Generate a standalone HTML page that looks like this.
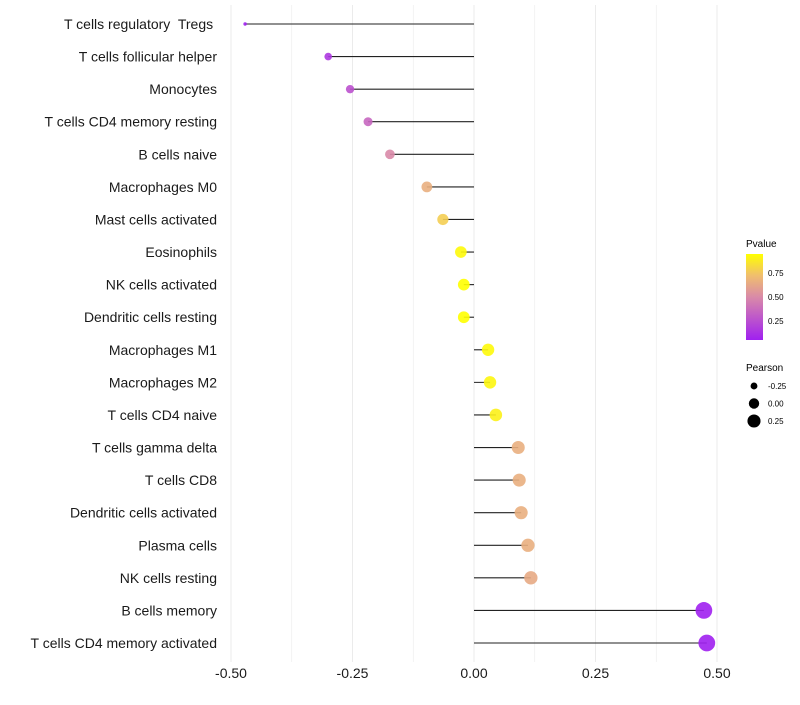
<!DOCTYPE html>
<html><head><meta charset="utf-8"><style>
body{margin:0;background:#fff;font-family:"Liberation Sans",sans-serif}
text{white-space:pre}
</style></head><body>
<svg id="c" width="800" height="700" xmlns="http://www.w3.org/2000/svg" font-family="Liberation Sans, sans-serif"></svg>
<script>
const categories=["T cells regulatory  Tregs ","T cells follicular helper","Monocytes","T cells CD4 memory resting","B cells naive","Macrophages M0","Mast cells activated","Eosinophils","NK cells activated","Dendritic cells resting","Macrophages M1","Macrophages M2","T cells CD4 naive","T cells gamma delta","T cells CD8","Dendritic cells activated","Plasma cells","NK cells resting","B cells memory","T cells CD4 memory activated"];
const pearson=[-0.471,-0.300,-0.255,-0.218,-0.173,-0.097,-0.064,-0.027,-0.021,-0.021,0.029,0.033,0.045,0.091,0.093,0.097,0.111,0.117,0.473,0.479];
const pvalues=[0.03,0.15,0.26,0.35,0.5,0.66,0.78,0.93,0.95,0.95,0.93,0.92,0.9,0.66,0.66,0.66,0.66,0.64,0.04,0.04];
const xTicks=[-0.5,-0.25,0,0.25,0.5];
const xTickLabels=["-0.50","-0.25","0.00","0.25","0.50"];
const legendP=[0.25,0.5,0.75];
const legendS=[-0.25,0,0.25];

const NS="http://www.w3.org/2000/svg",svg=document.getElementById('c');
const X=v=>474+v*486;
const Y=i=>24+i*(643-24)/19;
const R=v=>Math.sqrt(Math.max(3,36+72*v));
function col(p){const s=[[0,[160,32,240]],[0.5,[217,138,168]],[0.75,[240,190,110]],[1,[255,255,0]]];
 p=Math.max(0,Math.min(1,(p-0.05)/0.9));
 for(let k=1;k<s.length;k++){if(p<=s[k][0]){const t=(p-s[k-1][0])/(s[k][0]-s[k-1][0]);const a=s[k-1][1],b=s[k][1];return `rgb(${a.map((c,j)=>Math.round(c+(b[j]-c)*t)).join(',')})`;}}return 'rgb(255,255,0)';}
function el(t,a,p){const e=document.createElementNS(NS,t);for(const k in a)e.setAttribute(k,a[k]);(p||svg).appendChild(e);return e;}
for(let v=-0.5;v<=0.5001;v+=0.125){const g=el('line',{x1:X(v),x2:X(v),y1:5,y2:662,stroke:'#ebebeb','stroke-width':Math.abs((v*4)%1)<1e-6?1:0.6});

}
categories.forEach((c,i)=>{
 const l=el('line',{x1:X(0),x2:X(pearson[i]),y1:Y(i),y2:Y(i),stroke:'#222','stroke-width':1.1});
 
 
 const d=el('circle',{cx:X(pearson[i]),cy:Y(i),r:R(pearson[i]),fill:col(pvalues[i]),'fill-opacity':0.9});
 
 
 const t=el('text',{x:217,y:Y(i)+5,'text-anchor':'end','font-size':14,fill:'#1a1a1a'});t.textContent=c;
 
 
});
xTicks.forEach((v,i)=>{const t=el('text',{x:X(v),y:678,'text-anchor':'middle','font-size':14,fill:'#1a1a1a'});t.textContent=xTickLabels[i];

});
let t=el('text',{x:746,y:247,'font-size':10});t.textContent='Pvalue';


const defs=el('defs',{});const lg=el('linearGradient',{id:'g',x1:0,y1:1,x2:0,y2:0},defs);
[0,0.5,0.75,1].forEach((o,k)=>el('stop',{offset:o,'stop-color':col(0.05+o*0.9)},lg));
const bar=el('rect',{x:746,y:254,width:17,height:86,fill:'url(#g)'});


const PY=p=>340-(p-0.05)/0.9*86;
legendP.forEach(p=>{const tt=el('text',{x:768,y:PY(p)+3,'font-size':8});tt.textContent=p.toFixed(2);

});
t=el('text',{x:746,y:371,'font-size':10});t.textContent='Pearson';


legendS.forEach((s,k)=>{const y=386+k*17.5;const cc=el('circle',{cx:754,cy:y,r:R(s)-0.8,fill:'#000'});


const tt=el('text',{x:768,y:y+3,'font-size':8});tt.textContent=s.toFixed(2);

});
</script>
</body></html>
